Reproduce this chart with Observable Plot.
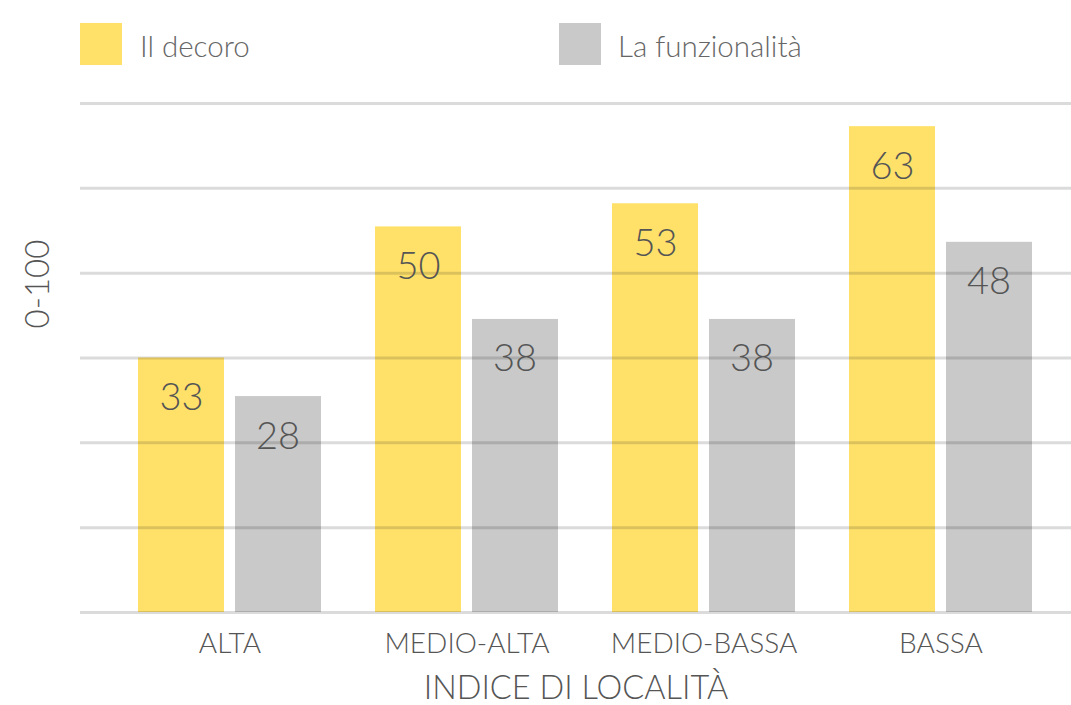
<!DOCTYPE html>
<html>
<head>
<meta charset="utf-8">
<script src="https://cdn.jsdelivr.net/npm/d3@7"></script>
<script src="https://cdn.jsdelivr.net/npm/@observablehq/plot@0.6"></script>
<style>
  html, body { margin: 0; padding: 0; background: #fff; }
  body { width: 1071px; height: 705px; overflow: hidden; font-family: Lato, "Open Sans", sans-serif; }
  #legend { position: relative; height: 85px; width: 1071px; }
  .sw { position: absolute; top: 23px; width: 42px; height: 42px; }
  .lt { position: absolute; top: 27px; font-size: 29.5px; font-weight: 300; color: #666; line-height: 38px; }
</style>
</head>
<body>
<div id="legend"></div>
<div id="chart"></div>
<script>
const categories = ["ALTA", "MEDIO-ALTA", "MEDIO-BASSA", "BASSA"];
const series = ["Il decoro", "La funzionalità"];
const decoro = [33, 50, 53, 63];
const funzionalita = [28, 38, 38, 48];
const colors = ["#FFE16A", "#C9C9C9"];
const yTicks = [0, 11, 22, 33, 44, 55, 66];
const xTitle = "INDICE DI LOCALITÀ";
const yTitle = "0-100";

// legend
const legend = document.getElementById("legend");
const legendX = [[80, 140], [559, 618]];
series.forEach((s, i) => {
  const sw = document.createElement("div");
  sw.className = "sw"; sw.style.left = legendX[i][0] + "px"; sw.style.background = colors[i];
  const t = document.createElement("div");
  t.className = "lt"; t.style.left = legendX[i][1] + "px"; t.textContent = s;
  legend.appendChild(sw); legend.appendChild(t);
});

const rowsD = categories.map((c, i) => ({cat: c, value: decoro[i]}));
const rowsF = categories.map((c, i) => ({cat: c, value: funzionalita[i]}));

const chart = Plot.plot({
  width: 1071,
  height: 620,
  marginTop: 18,
  marginBottom: 93,
  marginLeft: 80,
  marginRight: 0,
  style: {fontFamily: "Lato, 'Open Sans', sans-serif", color: "#555", background: "#fff"},
  x: {domain: categories, range: [110, 1059], paddingInner: 0.228, paddingOuter: 0.114, label: null},
  y: {domain: [0, 66], axis: null},
  marks: [
    Plot.barY(rowsD, {x: "cat", y: "value", fill: colors[0], insetRight: 97}),
    Plot.barY(rowsF, {x: "cat", y: "value", fill: colors[1], insetLeft: 97}),
    Plot.ruleY(yTicks, {stroke: "#000", strokeOpacity: 0.14, strokeWidth: 3}),
    Plot.text(rowsD, {x: "cat", y: "value", text: d => String(d.value), dx: -48.5, dy: 25, lineAnchor: "top", fontSize: 38, fontWeight: 300, fill: "#555"}),
    Plot.text(rowsF, {x: "cat", y: "value", text: d => String(d.value), dx: 48, dy: 25, lineAnchor: "top", fontSize: 38, fontWeight: 300, fill: "#555"}),
    Plot.axisX({tickSize: 0, tickPadding: 21, fontSize: 28, fontWeight: 300, label: null, color: "#555"}),
    Plot.text([xTitle], {frameAnchor: "bottom", dy: 86, fontSize: 32.5, fontWeight: 300, fill: "#555"}),
    Plot.text([yTitle], {frameAnchor: "left", textAnchor: "middle", dx: -42, dy: -74, rotate: -90, fontSize: 33, fontWeight: 300, fill: "#555"})
  ]
});
document.getElementById("chart").appendChild(chart);
</script>
</body>
</html>
